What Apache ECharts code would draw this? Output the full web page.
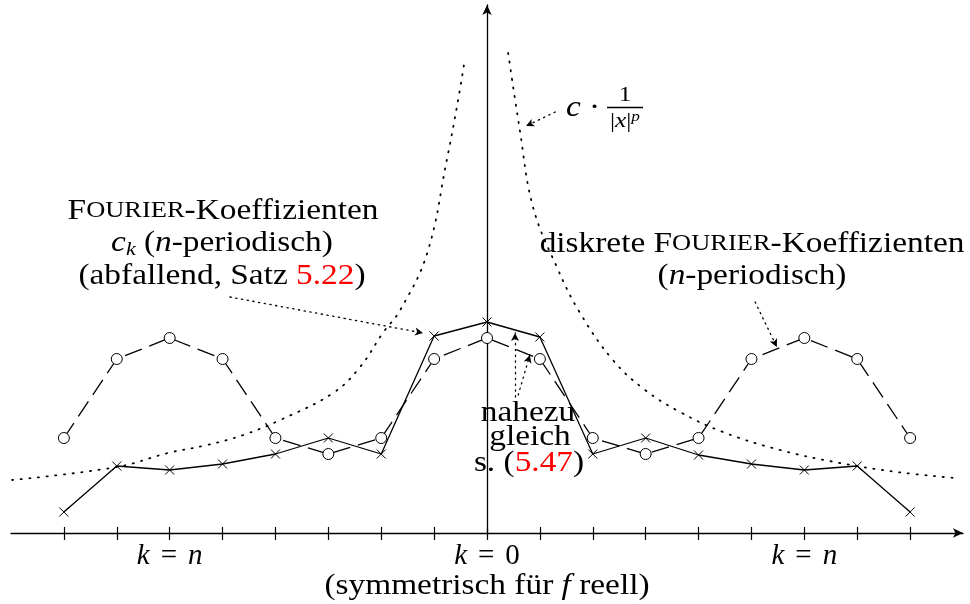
<!DOCTYPE html>
<html><head><meta charset="utf-8">
<script src="https://cdn.jsdelivr.net/npm/echarts@6/dist/echarts.min.js"></script>
<style>html,body{margin:0;padding:0;background:#fff}#c{width:970px;height:604px}</style>
</head><body><div id="c"></div>
<script>
// ---- data ----
const kTicks = [-8,-7,-6,-5,-4,-3,-2,-1,0,1,2,3,4,5,6,7,8];
const fourierCoeffs = [0.21,0.67,0.63,0.69,0.79,0.95,0.79,1.97,2.11,1.96,0.79,0.95,0.78,0.69,0.63,0.67,0.21];
const discreteCoeffs = [0.95,1.74,1.95,1.74,0.95,0.79,0.95,1.74,1.95,1.74,0.95,0.79,0.95,1.74,1.95,1.74,0.95];
const envelopeLeft = [[-8.98,0.53],[-7.0,0.66],[-6.03,0.80],[-5.29,0.88],[-4.61,0.98],[-3.91,1.13],[-2.91,1.40],[-2.40,1.66],[-1.97,2.00],[-1.64,2.23],[-1.13,2.80],[-0.76,3.73],[-0.57,4.26],[-0.42,4.73]];
const envelopeRight = [[0.40,4.80],[0.62,4.03],[0.87,3.26],[1.32,2.66],[1.76,2.20],[2.38,1.73],[2.99,1.43],[3.65,1.21],[4.46,1.01],[5.54,0.83],[6.67,0.70],[7.75,0.61],[8.85,0.55]];
const tickLabels = {'-6':'{i|k}{eq|=}{i|n}', '0':'{i|k}{eq|=}{n|0}', '6':'{i|k}{eq|=}{i|n}'};
const arrows = [
  [[-4.86,2.36],[-1.21,2.00]],
  [[5.07,2.31],[5.48,1.86]],
  [[1.29,4.21],[0.74,4.07]],
  [[0.53,1.36],[0.53,2.00]],
  [[0.59,1.38],[0.81,1.78]]
];

const FONT = 'Liberation Serif';
const FS = 29;
const SX = 1.15;
function st(o) { const c = o.color || '#000'; return Object.assign({fontFamily: FONT, color: c, fill: c}, o); }
const baseRich = {
  n: st({fontSize: FS, lineHeight: 32}),
  i: st({fontSize: FS, fontStyle: 'italic', lineHeight: 32}),
  eq: st({fontSize: FS, lineHeight: 32, padding: [0, 11, 0, 11]}),
  r: st({fontSize: FS, color: '#ff0000', lineHeight: 32}),
  sc1: st({fontSize: FS, lineHeight: 32}),
  sc2: st({fontSize: 23, lineHeight: 32}),
  sub: st({fontSize: 19, fontStyle: 'italic', lineHeight: 20, verticalAlign: 'bottom'}),
  f: st({fontSize: 22}),
  fi: st({fontSize: 22, fontStyle: 'italic'}),
  sup: st({fontSize: 15, fontStyle: 'italic', verticalAlign: 'top', lineHeight: 15})
};

const chart = echarts.init(document.getElementById('c'), null, {renderer: 'canvas'});

function txt(x, y, text, sx) {
  return {type: 'text', x: x, y: y, scaleX: sx === undefined ? SX : sx, silent: true,
    style: {text: text, rich: baseRich, align: 'center', verticalAlign: 'middle', fontFamily: FONT, fontSize: FS}};
}

const axisCommon = {
  type: 'value', min: -9, max: 9, interval: 1, position: 'bottom', splitLine: {show: false}
};

chart.setOption({
  animation: false,
  backgroundColor: '#fff',
  grid: {left: 11, right: 7, top: 5, bottom: 71},
  xAxis: [
    Object.assign({}, axisCommon, {
      axisLine: {show: true, onZero: false, lineStyle: {color: '#000', width: 1.3}, symbol: ['none', 'arrow'], symbolSize: [7, 10]},
      axisTick: {show: true, customValues: kTicks, length: 7, lineStyle: {color: '#000', width: 1.2}},
      axisLabel: {show: true, customValues: kTicks, margin: 7, interval: 0,
        formatter: function (v) { return tickLabels[String(v)] || ''; },
        rich: baseRich}
    }),
    Object.assign({}, axisCommon, {
      axisLine: {show: false, onZero: false},
      axisTick: {show: true, inside: true, customValues: kTicks, length: 6, lineStyle: {color: '#000', width: 1.2}},
      axisLabel: {show: false}
    })
  ],
  yAxis: {
    type: 'value', min: 0, max: 5.28,
    axisLine: {show: true, onZero: true, lineStyle: {color: '#000', width: 1.3}, symbol: ['none', 'arrow'], symbolSize: [7, 10]},
    axisTick: {show: false}, axisLabel: {show: false}, splitLine: {show: false}
  },
  series: [
    {
      type: 'line', name: 'envL', data: envelopeLeft, smooth: 0.4, showSymbol: false, silent: true,
      lineStyle: {color: '#000', width: 1.8, type: [1.2, 7.5], cap: 'round'}, z: 1
    },
    {
      type: 'line', name: 'envR', data: envelopeRight, smooth: 0.4, showSymbol: false, silent: true,
      lineStyle: {color: '#000', width: 1.8, type: [1.2, 7.5], cap: 'round'}, z: 1
    },
    {
      type: 'line', name: 'discrete', data: kTicks.map((k, i) => [k, discreteCoeffs[i]]),
      symbol: 'circle', symbolSize: 11, silent: true,
      lineStyle: {color: '#000', width: 1.3, type: [18, 8]},
      itemStyle: {color: '#fff', borderColor: '#000', borderWidth: 1}, z: 2
    },
    {
      type: 'line', name: 'fourier', data: kTicks.map((k, i) => [k, fourierCoeffs[i]]),
      symbol: 'path://M0,0L10,10M10,0L0,10', symbolSize: 9, silent: true,
      lineStyle: {color: '#000', width: 1.3},
      itemStyle: {color: 'rgba(0,0,0,0)', borderColor: '#000', borderWidth: 1}, z: 3
    },
    {
      type: 'line', name: 'arrows', data: [], silent: true,
      markLine: {
        silent: true, symbol: ['none', 'arrow'], symbolSize: [6, 8], label: {show: false},
        lineStyle: {color: '#000', width: 1.3, type: [1.3, 4.5], cap: 'round'},
        emphasis: {disabled: true},
        data: arrows.map(a => [{coord: a[0]}, {coord: a[1]}])
      }
    }
  ],
  graphic: [
    txt(223, 211, '{sc1|F}{sc2|OURIER}{n|-Koeffizienten}'),
    txt(222, 243, '{i|c}{sub|k}{n| (}{i|n}{n|-periodisch)}'),
    txt(222, 276, '{n|(abfallend, Satz }{r|5.22}{n|)}'),
    txt(752, 244, '{n|diskrete }{sc1|F}{sc2|OURIER}{n|-Koeffizienten}'),
    txt(752, 276, '{n|(}{i|n}{n|-periodisch)}'),
    txt(583, 108, '{i|c}{n| ·}'),
    txt(625, 95, '{f|1}'),
    {type: 'line', silent: true, shape: {x1: 607, y1: 107.5, x2: 643, y2: 107.5}, style: {stroke: '#000', lineWidth: 1.3}},
    txt(625, 121, '{f||}{fi|x}{f||}{sup|p}'),
    txt(528, 413, '{n|nahezu}'),
    txt(530, 437, '{n|gleich}'),
    txt(529, 463, '{n|s. (}{r|5.47}{n|)}'),
    txt(487, 586, '{n|(symmetrisch für }{i|f}{n| reell)}')
  ]
});
</script></body></html>
